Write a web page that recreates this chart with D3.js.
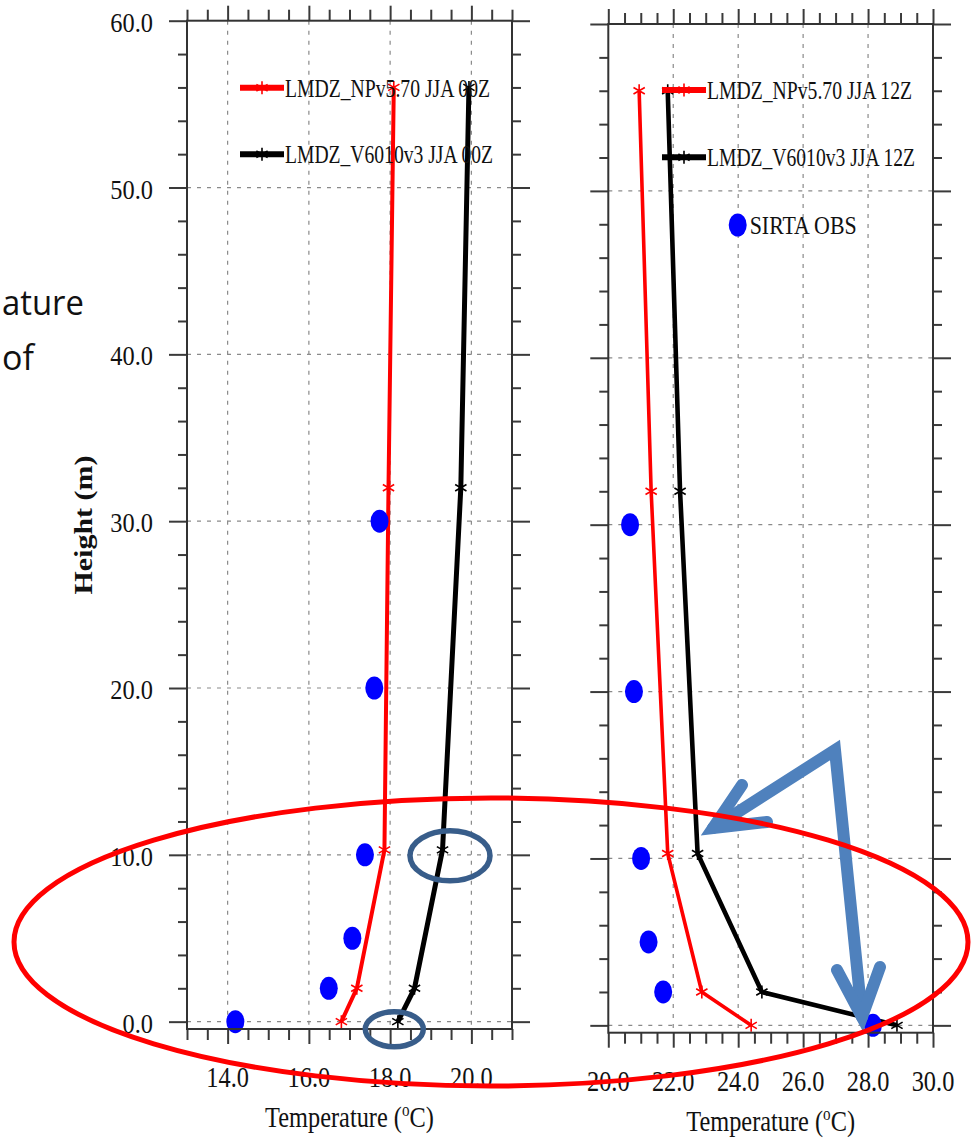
<!DOCTYPE html>
<html>
<head>
<meta charset="utf-8">
<script src="https://cdn.jsdelivr.net/npm/d3@7"></script>
<style>
  html, body { margin: 0; padding: 0; background: #fff; }
  svg { display: block; }
</style>
</head>
<body>
<svg id="chart" width="971" height="1139"></svg>
<script>
// Model levels (m) and simulated temperatures (°C)
const heights = [0, 2, 10.3, 32, 56];
const npv00 = [16.80, 17.18, 17.86, 17.96, 18.09];
const v6010_00 = [18.19, 18.60, 19.29, 19.74, 19.94];
const npv12 = [24.40, 22.88, 21.83, 21.32, 20.95];
const v6010_12 = [28.89, 24.73, 22.75, 22.21, 21.83];

// Mast observation levels (m) and observed temperatures (°C)
const obsHeights = [0, 2, 5, 10, 20, 30];
const obs00 = [14.19, 16.49, 17.07, 17.38, 17.61, 17.74];
const obs12 = [28.15, 21.69, 21.24, 21.01, 20.79, 20.67];

// Axis ticks
const xTicksLeft = [14, 16, 18, 20];
const xTicksRight = [20, 22, 24, 26, 28, 30];
const yTicks = [0, 10, 20, 30, 40, 50, 60];

// Legend entries
const legendLeft = ["LMDZ_NPv5.70 JJA 00Z", "LMDZ_V6010v3 JJA 00Z"];
const legendRight = ["LMDZ_NPv5.70 JJA 12Z", "LMDZ_V6010v3 JJA 12Z", "SIRTA OBS"];

const svg = d3.select("#chart");
svg.append("rect").attr("width", 971).attr("height", 1139).attr("fill", "#fff");

const SERIF = "'Liberation Serif', 'Times New Roman', serif";
const FRAME = "#333";

function asterisk(s) {
  const a = s * 0.87, b = s * 0.5;
  return `M0,${-s}L0,${s}M${-a},${-b}L${a},${b}M${-a},${b}L${a},${-b}`;
}

function range(a, b, step) {
  const out = [];
  for (let v = a; v <= b + 1e-9; v += step) out.push(+v.toFixed(4));
  return out;
}

function drawPanel(cfg) {
  const x = d3.scaleLinear().domain(cfg.xDomain).range(cfg.xRange);
  const y = d3.scaleLinear().domain([-0.44, 60]).range(cfg.yRange);
  const g = svg.append("g");
  const [xl, xr] = cfg.xRange;
  const [yb, yt] = cfg.yRange;

  // dashed grid at major ticks
  const grid = g.append("g").attr("stroke", "#8a8a8a").attr("stroke-width", 1.2)
    .attr("stroke-dasharray", "4,6");
  grid.selectAll("line.gx").data(cfg.xTicks.filter(v => x(v) > xl + 1 && x(v) < xr - 1))
    .join("line").attr("x1", d => x(d)).attr("x2", d => x(d)).attr("y1", yt).attr("y2", yb);
  grid.selectAll("line.gy").data(yTicks.filter(v => v < 60))
    .join("line").attr("x1", xl).attr("x2", xr).attr("y1", d => y(d)).attr("y2", d => y(d));

  // simulated profiles
  const line = d3.line().x(d => x(d[0])).y(d => y(d[1]));
  cfg.series.forEach(s => {
    const pts = s.values.map((v, i) => [v, heights[i]]);
    g.append("path").attr("d", line(pts)).attr("fill", "none")
      .attr("stroke", s.color).attr("stroke-width", s.width)
      .attr("stroke-linejoin", "round");
    g.selectAll(null).data(pts).join("path")
      .attr("transform", d => `translate(${x(d[0])},${y(d[1])})`)
      .attr("d", asterisk(6.5)).attr("stroke", s.color).attr("stroke-width", 1.6)
      .attr("fill", "none");
  });

  // observations
  g.selectAll(null).data(cfg.obs.map((v, i) => [v, obsHeights[i]])).join("ellipse")
    .attr("cx", d => x(d[0])).attr("cy", d => y(d[1]))
    .attr("rx", 9).attr("ry", 11.5).attr("fill", "#0000ff");

  // axes with outward major / minor ticks
  const ax = g.append("g");
  const yMinor = range(0, 60, 2).filter(v => v % 10 !== 0);
  const xMinor = range(cfg.xDomain[0], cfg.xDomain[1], 0.5).filter(v => !cfg.xTicks.includes(v));
  const styleAxis = sel => {
    sel.select(".domain").remove();
    sel.selectAll("text").remove();
    sel.selectAll("line").attr("stroke", "#3a3a3a").attr("stroke-width", 2);
  };
  ax.append("g").attr("transform", `translate(${xl},0)`)
    .call(d3.axisLeft(y).tickValues(yTicks).tickSize(18)).call(styleAxis);
  ax.append("g").attr("transform", `translate(${xl},0)`)
    .call(d3.axisLeft(y).tickValues(yMinor).tickSize(9)).call(styleAxis);
  ax.append("g").attr("transform", `translate(${xr},0)`)
    .call(d3.axisRight(y).tickValues(yTicks).tickSize(18)).call(styleAxis);
  ax.append("g").attr("transform", `translate(${xr},0)`)
    .call(d3.axisRight(y).tickValues(yMinor).tickSize(9)).call(styleAxis);
  ax.append("g").attr("transform", `translate(0,${yb})`)
    .call(d3.axisBottom(x).tickValues(cfg.xTicks).tickSize(15)).call(styleAxis);
  ax.append("g").attr("transform", `translate(0,${yb})`)
    .call(d3.axisBottom(x).tickValues(xMinor).tickSize(11)).call(styleAxis);
  ax.append("g").attr("transform", `translate(0,${yt})`)
    .call(d3.axisTop(x).tickValues(cfg.xTicks).tickSize(15)).call(styleAxis);
  ax.append("g").attr("transform", `translate(0,${yt})`)
    .call(d3.axisTop(x).tickValues(xMinor).tickSize(11)).call(styleAxis);

  g.append("rect").attr("x", xl).attr("y", yt).attr("width", xr - xl).attr("height", yb - yt)
    .attr("fill", "none").attr("stroke", FRAME).attr("stroke-width", 2);

  // tick labels
  g.selectAll(null).data(cfg.xTicks).join("text")
    .attr("transform", d => `translate(${x(d)},${yb + 58}) scale(0.84,1)`)
    .attr("text-anchor", "middle").attr("font-family", SERIF).attr("font-size", 29)
    .attr("fill", "#111").text(d => d.toFixed(1));
  if (cfg.yLabels) {
    g.selectAll(null).data(yTicks).join("text")
      .attr("transform", d => `translate(153,${y(d) + 11}) scale(0.87,1)`)
      .attr("text-anchor", "end").attr("font-family", SERIF).attr("font-size", 28)
      .attr("fill", "#111").text(d => d.toFixed(1));
  }

  // x-axis title
  const t = g.append("text")
    .attr("transform", `translate(${(xl + xr) / 2},${yb + 98}) scale(0.84,1)`)
    .attr("text-anchor", "middle").attr("font-family", SERIF).attr("font-size", 29)
    .attr("fill", "#111");
  t.append("tspan").text("Temperature (");
  t.append("tspan").attr("font-size", 18).attr("dy", -11).text("o");
  t.append("tspan").attr("dy", 11).text("C)");

  // legend
  cfg.legend.forEach(l => {
    if (l.type === "line") {
      g.append("line").attr("x1", l.x0).attr("x2", l.x0 + 44).attr("y1", l.y).attr("y2", l.y)
        .attr("stroke", l.color).attr("stroke-width", 6);
      g.append("path").attr("transform", `translate(${l.x0 + 22},${l.y})`)
        .attr("d", asterisk(6.5)).attr("stroke", l.color).attr("stroke-width", 1.6);
      g.append("text").attr("x", l.x0 + 45).attr("y", l.y + 9)
        .attr("font-family", SERIF).attr("font-size", 25).attr("fill", "#111")
        .attr("textLength", l.len).attr("lengthAdjust", "spacingAndGlyphs").text(l.label);
    } else {
      g.append("ellipse").attr("cx", l.x0).attr("cy", l.y).attr("rx", 9).attr("ry", 11.5)
        .attr("fill", "#0000ff");
      g.append("text").attr("x", l.x0 + 12).attr("y", l.y + 9)
        .attr("font-family", SERIF).attr("font-size", 25).attr("fill", "#111")
        .attr("textLength", l.len).attr("lengthAdjust", "spacingAndGlyphs").text(l.label);
    }
  });
}

drawPanel({
  xDomain: [13, 21], xRange: [187, 512], yRange: [1029, 20.7],
  xTicks: xTicksLeft, yLabels: true, obs: obs00,
  series: [
    { values: npv00, color: "#ff0000", width: 4 },
    { values: v6010_00, color: "#000", width: 5 }
  ],
  legend: [
    { type: "line", label: legendLeft[0], color: "#ff0000", x0: 240, y: 87.7, len: 205 },
    { type: "line", label: legendLeft[1], color: "#000", x0: 240, y: 154.3, len: 208 }
  ]
});

drawPanel({
  xDomain: [20, 30], xRange: [608.3, 933], yRange: [1032.7, 24],
  xTicks: xTicksRight, yLabels: false, obs: obs12,
  series: [
    { values: npv12, color: "#ff0000", width: 3.6 },
    { values: v6010_12, color: "#000", width: 4.6 }
  ],
  legend: [
    { type: "line", label: legendRight[0], color: "#ff0000", x0: 662, y: 90, len: 205 },
    { type: "line", label: legendRight[1], color: "#000", x0: 662, y: 157.3, len: 208 },
    { type: "dot", label: legendRight[2], x0: 737.7, y: 225, len: 107 }
  ]
});

// y-axis title
svg.append("text")
  .attr("transform", "translate(92,525) rotate(-90) scale(1,0.85)")
  .attr("text-anchor", "middle").attr("font-family", SERIF).attr("font-size", 30)
  .attr("font-weight", "bold").attr("fill", "#111").text("Height (m)");

// slide caption fragments at the left edge
const caption = svg.append("g").attr("font-family", "'Open Sans', 'Noto Sans', sans-serif")
  .attr("font-size", 34).attr("fill", "#111");
caption.append("text").attr("x", 2).attr("y", 315)
  .attr("textLength", 82).attr("lengthAdjust", "spacingAndGlyphs").text("ature");
caption.append("text").attr("x", 2).attr("y", 370).text("of");

// highlight annotations
const notes = svg.append("g").attr("fill", "none");
notes.append("ellipse").attr("cx", 450).attr("cy", 855.8).attr("rx", 40).attr("ry", 25)
  .attr("stroke", "#385d8a").attr("stroke-width", 5.5);
notes.append("ellipse").attr("cx", 394.3).attr("cy", 1029.3).attr("rx", 29).attr("ry", 17.5)
  .attr("stroke", "#385d8a").attr("stroke-width", 5.5);

const arrow = notes.append("g").attr("stroke", "#4f81bd").attr("stroke-width", 12);
arrow.append("path").attr("d", "M713,828L835,750L862,1017")
  .attr("stroke-linejoin", "miter").attr("stroke-linecap", "round");
arrow.append("path").attr("d", "M742,785L713,828L767,822")
  .attr("stroke-linejoin", "miter").attr("stroke-linecap", "round");
arrow.append("path").attr("d", "M837,970L862,1017L880,967")
  .attr("stroke-linejoin", "miter").attr("stroke-linecap", "round");

notes.append("ellipse").attr("cx", 491).attr("cy", 942).attr("rx", 477).attr("ry", 144)
  .attr("stroke", "#ff0000").attr("stroke-width", 5);
</script>
</body>
</html>
